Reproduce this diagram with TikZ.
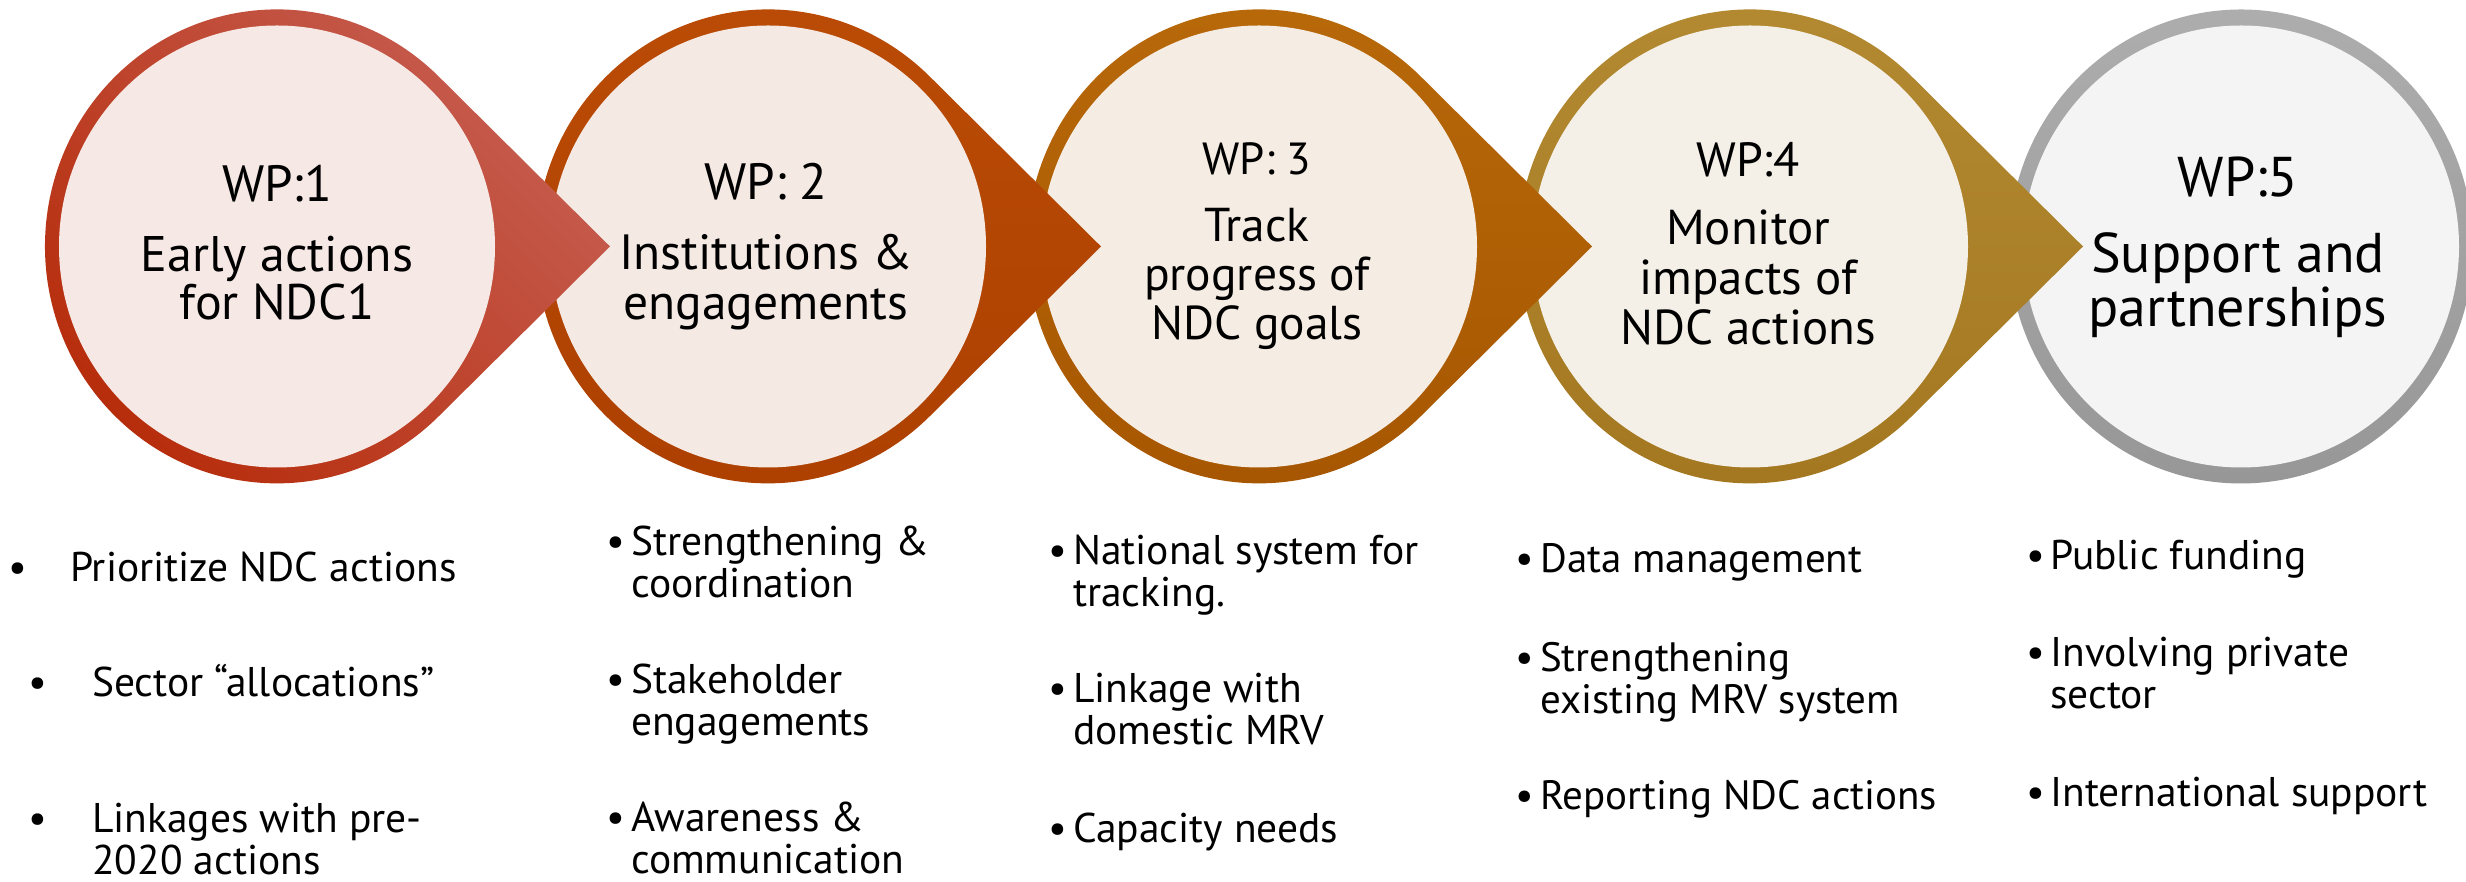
\documentclass[tikz,border=0pt]{standalone}
\usepackage{fontspec}
\setmainfont{PT Sans}
\newcommand\ctr[1]{\hbox to 0pt{\hss#1\hss}}
\newcommand\lft[1]{\hbox{#1}}
\definecolor{ra}{HTML}{C65E52}
\definecolor{rb}{HTML}{B62C0A}
\definecolor{rf}{HTML}{F6E8E5}
\definecolor{oa}{HTML}{BA4C06}
\definecolor{ob}{HTML}{AD4000}
\definecolor{of}{HTML}{F5E9E3}
\definecolor{ba}{HTML}{B8690A}
\definecolor{bb}{HTML}{A65600}
\definecolor{bf}{HTML}{F5ECE3}
\definecolor{ga}{HTML}{B38A32}
\definecolor{gb}{HTML}{A3771F}
\definecolor{gf}{HTML}{F4F0E8}
\definecolor{sa}{HTML}{ADADAD}
\definecolor{sb}{HTML}{979797}
\definecolor{sf}{HTML}{F4F4F4}
\newcommand\wparrow[5]{%
  \shade[top color=#2,bottom color=#3,shading angle=#5]
    (#1+161.7,805.5) arc[start angle=45.8,end angle=314.2,x radius=232,y radius=237]
    -- (#1+333,635.5) -- cycle;
  \fill[#4] (#1,635.5) ellipse[x radius=218,y radius=221];}
\begin{document}
\begin{tikzpicture}[x=1pt,y=1pt,
  wpl/.style={anchor=base,inner sep=0pt,text=black},
  itx/.style={anchor=base west,inner sep=0pt},
  bul/.style={anchor=base,inner sep=0pt}]
\useasboundingbox (0,0) rectangle (2466,882);
\fill[white] (0,0) rectangle (2466,882);
% circles, right to left so each arrow lies over the next circle
\shade[top color=sa,bottom color=sb] (2241,635.5) ellipse[x radius=232,y radius=237];
\fill[sf] (2241,635.5) ellipse[x radius=218,y radius=221];
\wparrow{1750}{ga}{gb}{gf}{0}
\wparrow{1259}{ba}{bb}{bf}{0}
\wparrow{768}{oa}{ob}{of}{0}
\wparrow{277}{ra}{rb}{rf}{-45}
% circle texts
\node[wpl,font=\fontsize{51}{48}\selectfont] (t1a) at (277,680) {WP:1};
\node[wpl,font=\fontsize{50}{48}\selectfont] (t1b) at (277,610) {\vtop{\ctr{Early actions}\ctr{for NDC1}}};
\node[wpl,font=\fontsize{51}{50}\selectfont] (t2a) at (766,682) {WP: 2};
\node[wpl,font=\fontsize{49.5}{50}\selectfont] (t2b) at (766,612) {\vtop{\ctr{Institutions \&}\ctr{engagements}}};
\node[wpl,font=\fontsize{45}{49}\selectfont] (t3a) at (1257,707) {WP: 3};
\node[wpl,font=\fontsize{47.5}{49}\selectfont] (t3b) at (1257,640) {\vtop{\ctr{Track}\ctr{progress of}\ctr{NDC goals}}};
\node[wpl,font=\fontsize{48}{50}\selectfont] (t4a) at (1748,705) {WP:4};
\node[wpl,font=\fontsize{49}{50}\selectfont] (t4b) at (1748,637) {\vtop{\ctr{Monitor}\ctr{impacts of}\ctr{NDC actions}}};
\node[wpl,font=\fontsize{56}{54}\selectfont] (t5a) at (2238,685) {WP:5};
\node[wpl,font=\fontsize{56}{54}\selectfont] (t5b) at (2238,609) {\vtop{\ctr{Support and}\ctr{partnerships}}};
% bullet lists
\begin{scope}[every node/.append style={font=\fontsize{41.5}{42}\selectfont}]
\node[bul] (b11) at (17.5,300) {•};
\node[itx] (i11) at (70,300) {Prioritize NDC actions};
\node[bul] (b12) at (38,185) {•};
\node[itx] (i12) at (92,185) {Sector “allocations”};
\node[bul] (b13) at (38,49) {•};
\node[itx] (i13) at (92,49) {\vtop{\lft{Linkages with pre-}\lft{2020 actions}}};
\node[bul] (b21) at (616,326) {•};
\node[itx] (i21) at (631,326) {\vtop{\lft{Strengthening \&}\lft{coordination}}};
\node[bul] (b22) at (616,188) {•};
\node[itx] (i22) at (631,188) {\vtop{\lft{Stakeholder}\lft{engagements}}};
\node[bul] (b23) at (616,50) {•};
\node[itx] (i23) at (631,50) {\vtop{\lft{Awareness \&}\lft{communication}}};
\node[bul] (b31) at (1058,317) {•};
\node[itx] (i31) at (1073,317) {\vtop{\lft{National system for}\lft{tracking.}}};
\node[bul] (b32) at (1058,179) {•};
\node[itx] (i32) at (1073,179) {\vtop{\lft{Linkage with}\lft{domestic MRV}}};
\node[bul] (b33) at (1058,39) {•};
\node[itx] (i33) at (1073,39) {Capacity needs};
\end{scope}
\begin{scope}[every node/.append style={font=\fontsize{41}{42}\selectfont}]
\node[bul] (b41) at (1525,309) {•};
\node[itx] (i41) at (1540,309) {Data management};
\node[bul] (b42) at (1525,210) {•};
\node[itx] (i42) at (1540,210) {\vtop{\lft{Strengthening}\lft{existing MRV system}}};
\node[bul] (b43) at (1525,72) {•};
\node[itx] (i43) at (1540,72) {Reporting NDC actions};
\end{scope}
\begin{scope}[every node/.append style={font=\fontsize{41.5}{42}\selectfont}]
\node[bul] (b51) at (2036,312) {•};
\node[itx] (i51) at (2050,312) {Public funding};
\node[bul] (b52) at (2036,215) {•};
\node[itx] (i52) at (2050,215) {\vtop{\lft{Involving private}\lft{sector}}};
\node[bul] (b53) at (2036,75) {•};
\node[itx] (i53) at (2050,75) {International support};
\end{scope}
\end{tikzpicture}
\end{document}
